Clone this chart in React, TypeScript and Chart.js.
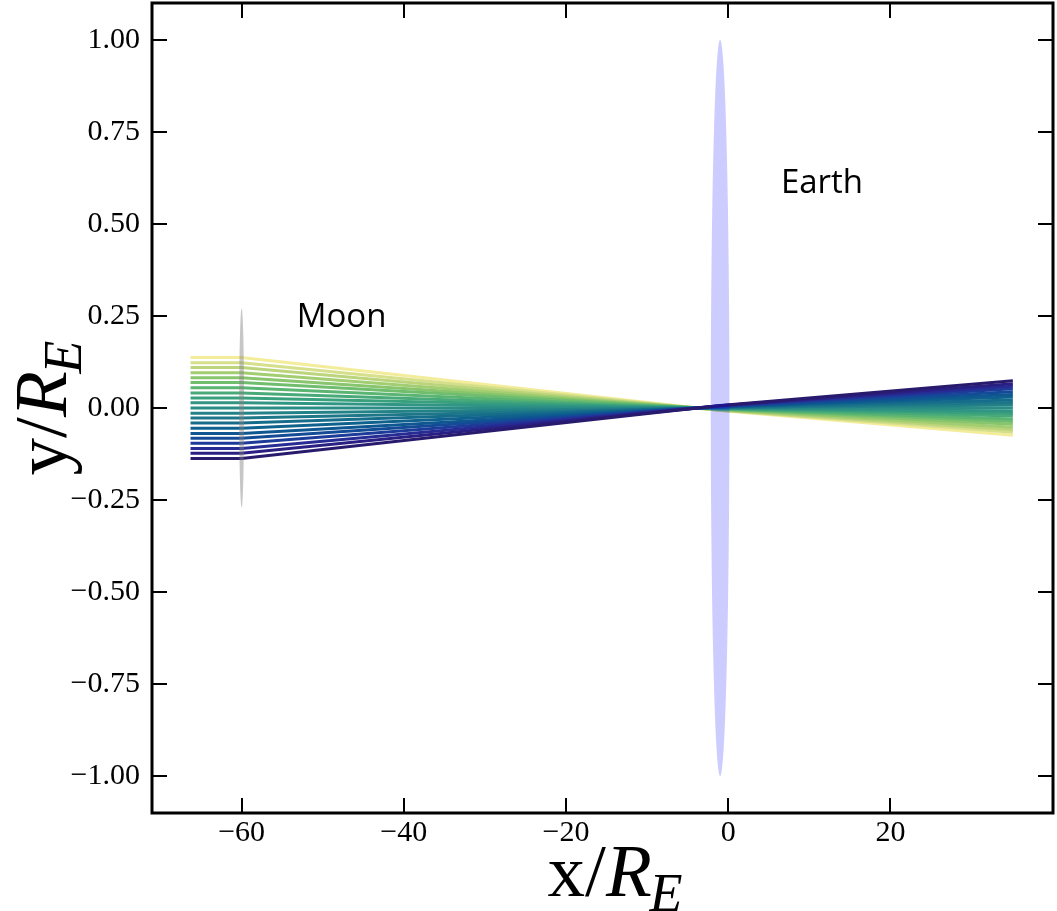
import React, { useEffect, useRef } from "react";
import { Chart, registerables } from "chart.js";

Chart.register(...registerables);

// ray path x positions (x / R_E)
const rayX = [-66.3, -60, -1, 35.1];
// y of each ray at the start (and Moon), at the Earth, and at the end
const rayStartY = [-0.137, -0.123, -0.11, -0.096, -0.082, -0.069, -0.055, -0.041, -0.027, -0.014, 0.0, 0.014, 0.027, 0.041, 0.055, 0.069, 0.082, 0.096, 0.11, 0.123, 0.137];
const rayEarthY = [0.007, 0.006, 0.006, 0.005, 0.004, 0.003, 0.003, 0.002, 0.001, 0.001, 0.0, -0.001, -0.001, -0.002, -0.003, -0.003, -0.004, -0.005, -0.006, -0.006, -0.007];
const rayEndY = [0.074, 0.066, 0.059, 0.052, 0.044, 0.037, 0.03, 0.022, 0.015, 0.008, 0.0, -0.008, -0.015, -0.022, -0.03, -0.037, -0.044, -0.052, -0.059, -0.066, -0.074];
const rayColors = ["#281a6c", "#2a1f82", "#272c94", "#1d3c99", "#134b96", "#0e5791", "#10628e", "#166d8b", "#1d7789", "#238287", "#298c85", "#309683", "#39a07e", "#48aa78", "#5ab472", "#70bd6d", "#88c56c", "#a2cd70", "#bcd57c", "#d6df8a", "#f3ec9b"];

const xTicks = [-60, -40, -20, 0, 20];
const yTicks = [-1, -0.75, -0.5, -0.25, 0, 0.25, 0.5, 0.75, 1];
const xRange = [-71.05, 40.05];
const yRange = [-1.1, 1.1];

const earthBody = { x: -1, y: 0, rx: 1.15, ry: 1.0 };
const moonBody = { x: -60, y: 0, rx: 0.3, ry: 0.27 };
const bodyLabels = [
  { text: "Moon", x: -53.2, y: 0.22 },
  { text: "Earth", x: 6.5, y: 0.585 },
];

const fmtY = (v: number) => (v < 0 ? "\u2212" : "") + Math.abs(v).toFixed(2);
const fmtX = (v: number) => (v < 0 ? "\u2212" : "") + String(Math.abs(v));

const SERIF = "'Liberation Serif', 'DejaVu Serif', serif";

function drawMathLabel(ctx: CanvasRenderingContext2D, pre: string, main: string, sub: string, size: number) {
  ctx.font = `${size}px ${SERIF}`;
  const w1 = ctx.measureText(pre).width;
  ctx.fillText(pre, 0, 0);
  ctx.font = `italic ${size}px ${SERIF}`;
  const w2 = ctx.measureText(main).width;
  ctx.fillText(main, w1, 0);
  ctx.font = `italic ${Math.round(size * 0.72)}px ${SERIF}`;
  ctx.fillText(sub, w1 + w2 - size * 0.03, size * 0.2);
}

function mathLabelWidth(ctx: CanvasRenderingContext2D, pre: string, main: string, sub: string, size: number) {
  ctx.font = `${size}px ${SERIF}`;
  const w1 = ctx.measureText(pre).width;
  ctx.font = `italic ${size}px ${SERIF}`;
  const w2 = ctx.measureText(main).width;
  ctx.font = `italic ${Math.round(size * 0.72)}px ${SERIF}`;
  const w3 = ctx.measureText(sub).width;
  return w1 + w2 + w3 - size * 0.03;
}

const bodiesPlugin = {
  id: "bodies",
  afterDatasetsDraw(chart: any) {
    const { ctx, chartArea, scales } = chart;
    const xs = scales.x;
    const ys = scales.y;
    ctx.save();
    ctx.beginPath();
    ctx.rect(chartArea.left, chartArea.top, chartArea.right - chartArea.left, chartArea.bottom - chartArea.top);
    ctx.clip();
    const drawBody = (b: any, fill: string) => {
      const cx = xs.getPixelForValue(b.x);
      const cy = ys.getPixelForValue(b.y);
      const rx = Math.abs(xs.getPixelForValue(b.x + b.rx) - cx);
      const ry = Math.abs(ys.getPixelForValue(b.y + b.ry) - cy);
      ctx.beginPath();
      ctx.ellipse(cx, cy, rx, ry, 0, 0, Math.PI * 2);
      ctx.fillStyle = fill;
      ctx.fill();
    };
    drawBody(moonBody, "rgba(128,128,128,0.45)");
    drawBody(earthBody, "rgba(0,0,255,0.2)");
    ctx.restore();
  },
  afterDraw(chart: any) {
    const { ctx, chartArea, scales } = chart;
    const xs = scales.x;
    const ys = scales.y;
    const { left, right, top, bottom } = chartArea;
    ctx.save();
    ctx.fillStyle = "#000";
    ctx.font = "33px 'Open Sans', sans-serif";
    ctx.textAlign = "left";
    ctx.textBaseline = "alphabetic";
    for (const l of bodyLabels) {
      ctx.fillText(l.text, xs.getPixelForValue(l.x), ys.getPixelForValue(l.y));
    }
    ctx.strokeStyle = "#000";
    ctx.lineWidth = 3;
    ctx.strokeRect(left, top, right - left, bottom - top);
    ctx.lineWidth = 2;
    const tl = 15;
    ctx.beginPath();
    for (const v of xTicks) {
      const px = Math.round(xs.getPixelForValue(v));
      ctx.moveTo(px, bottom);
      ctx.lineTo(px, bottom - tl);
      ctx.moveTo(px, top);
      ctx.lineTo(px, top + tl);
    }
    for (const v of yTicks) {
      const py = Math.round(ys.getPixelForValue(v));
      ctx.moveTo(left, py);
      ctx.lineTo(left + tl, py);
      ctx.moveTo(right, py);
      ctx.lineTo(right - tl, py);
    }
    ctx.stroke();
    const size = 75;
    ctx.fillStyle = "#000";
    ctx.textAlign = "left";
    ctx.textBaseline = "alphabetic";
    const wx = mathLabelWidth(ctx, "x/", "R", "E", size);
    ctx.save();
    ctx.translate(615 - wx / 2, 896);
    drawMathLabel(ctx, "x/", "R", "E", size);
    ctx.restore();
    const wy = mathLabelWidth(ctx, "y/", "R", "E", size);
    ctx.save();
    ctx.translate(66, 408 + wy / 2);
    ctx.rotate(-Math.PI / 2);
    drawMathLabel(ctx, "y/", "R", "E", size);
    ctx.restore();
    ctx.restore();
  },
};

export default function App() {
  const canvasRef = useRef<HTMLCanvasElement | null>(null);

  useEffect(() => {
    document.body.style.margin = "0";
    const canvas = canvasRef.current;
    if (!canvas) return;
    const datasets = rayStartY.map((s, i) => ({
      data: [
        { x: rayX[0], y: s },
        { x: rayX[1], y: s },
        { x: rayX[2], y: rayEarthY[i] },
        { x: rayX[3], y: rayEndY[i] },
      ],
      showLine: true,
      borderColor: rayColors[i],
      backgroundColor: rayColors[i],
      borderWidth: 3,
      pointRadius: 0,
      tension: 0,
    }));
    const chart = new Chart(canvas, {
      type: "scatter",
      data: { datasets },
      options: {
        responsive: false,
        animation: false,
        devicePixelRatio: 1,
        layout: { padding: { top: 3, right: 4, left: 0, bottom: 0 } },
        plugins: { legend: { display: false }, tooltip: { enabled: false } },
        scales: {
          x: {
            type: "linear",
            min: xRange[0],
            max: xRange[1],
            grid: { display: false, drawTicks: false },
            border: { display: false },
            afterBuildTicks: (scale: any) => {
              scale.ticks = xTicks.map((v) => ({ value: v }));
            },
            afterFit: (scale: any) => {
              scale.height = 98;
              scale.paddingLeft = 0;
              scale.paddingRight = 0;
            },
            ticks: {
              autoSkip: false,
              maxRotation: 0,
              padding: 2,
              color: "#000",
              font: { family: SERIF, size: 30 },
              callback: (v: any) => fmtX(Number(v)),
            },
          },
          y: {
            type: "linear",
            min: yRange[0],
            max: yRange[1],
            grid: { display: false, drawTicks: false },
            border: { display: false },
            afterBuildTicks: (scale: any) => {
              scale.ticks = yTicks.map((v) => ({ value: v }));
            },
            afterFit: (scale: any) => {
              scale.width = 152;
              scale.paddingTop = 0;
              scale.paddingBottom = 0;
            },
            ticks: {
              autoSkip: false,
              padding: 12,
              color: "#000",
              font: { family: SERIF, size: 30 },
              callback: (v: any) => fmtY(Number(v)),
            },
          },
        },
      },
      plugins: [bodiesPlugin],
    });
    return () => chart.destroy();
  }, []);

  return (
    <div style={{ position: "absolute", left: 0, top: 0, width: 1057, height: 911, background: "#fff" }}>
      <canvas ref={canvasRef} width={1057} height={911} style={{ display: "block" }} />
    </div>
  );
}
